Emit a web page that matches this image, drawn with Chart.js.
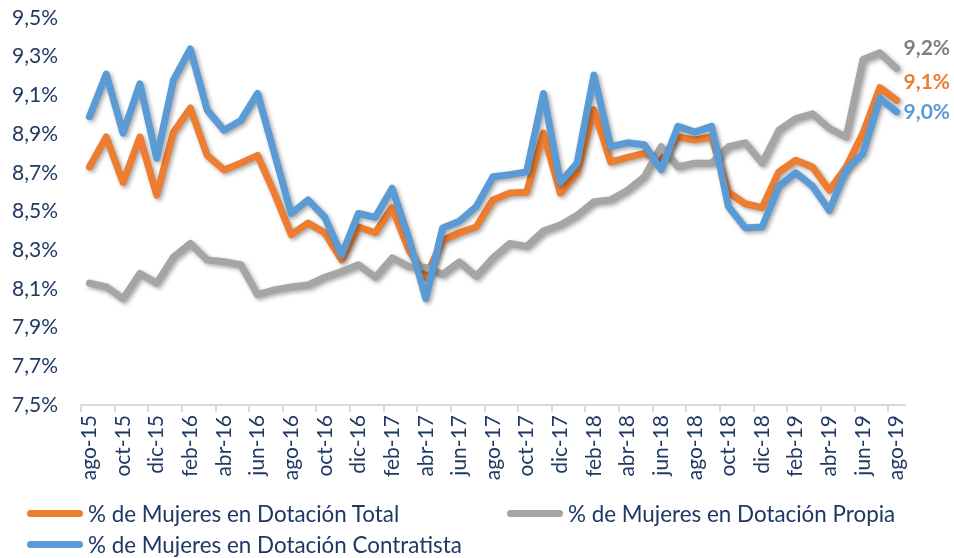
<!DOCTYPE html>
<html>
<head>
<meta charset="utf-8">
<script src="https://cdn.jsdelivr.net/npm/chart.js@4"></script>
<style>
  body { margin: 0; background: #fff; }
  #wrap { position: relative; width: 954px; height: 558px; font-family: Lato, sans-serif; }
  #legend { position: absolute; left: 0; top: 0; width: 954px; height: 558px; pointer-events: none; }
  .item { position: absolute; display: flex; align-items: center; height: 30px; color: #1F3864; font-size: 22.4px; white-space: nowrap; }
  .item span.line { display: inline-block; width: 56px; height: 7px; border-radius: 4px; margin-right: 5px; }
</style>
</head>
<body>
<div id="wrap">
  <canvas id="lineChart" width="954" height="558"></canvas>
  <div id="legend"></div>
</div>
<script>
const meses = [
    'ago-15', 'sep-15', 'oct-15', 'nov-15', 'dic-15',
    'ene-16', 'feb-16', 'mar-16', 'abr-16', 'may-16', 'jun-16', 'jul-16',
    'ago-16', 'sep-16', 'oct-16', 'nov-16', 'dic-16',
    'ene-17', 'feb-17', 'mar-17', 'abr-17', 'may-17', 'jun-17', 'jul-17',
    'ago-17', 'sep-17', 'oct-17', 'nov-17', 'dic-17',
    'ene-18', 'feb-18', 'mar-18', 'abr-18', 'may-18', 'jun-18', 'jul-18',
    'ago-18', 'sep-18', 'oct-18', 'nov-18', 'dic-18',
    'ene-19', 'feb-19', 'mar-19', 'abr-19', 'may-19', 'jun-19', 'jul-19',
    'ago-19'
];

// % de Mujeres en Dotación Total
const dotacionTotal = [
    8.73, 8.885, 8.65, 8.885, 8.585, 8.91, 9.035, 8.79, 8.715, 8.75, 8.79, 8.595,
    8.38, 8.44, 8.39, 8.25, 8.42, 8.39, 8.52, 8.30, 8.16, 8.35, 8.39, 8.42,
    8.56, 8.595, 8.60, 8.905, 8.595, 8.70, 9.025, 8.755, 8.78, 8.80, 8.765, 8.885,
    8.87, 8.885, 8.60, 8.54, 8.52, 8.705, 8.765, 8.73, 8.61, 8.73, 8.905, 9.14,
    9.075
];

// % de Mujeres en Dotación Propia
const dotacionPropia = [
    8.13, 8.11, 8.05, 8.18, 8.13, 8.265, 8.335, 8.25, 8.24, 8.225, 8.07, 8.095,
    8.11, 8.12, 8.16, 8.19, 8.225, 8.16, 8.26, 8.215, 8.21, 8.175, 8.24, 8.165,
    8.26, 8.335, 8.32, 8.40, 8.43, 8.48, 8.55, 8.56, 8.61, 8.68, 8.835, 8.73,
    8.75, 8.75, 8.835, 8.855, 8.75, 8.92, 8.98, 9.005, 8.93, 8.885, 9.285, 9.32,
    9.24
];

// % de Mujeres en Dotación Contratista
const dotacionContratista = [
    8.99, 9.21, 8.905, 9.16, 8.775, 9.18, 9.34, 9.025, 8.92, 8.97, 9.11, 8.80,
    8.49, 8.56, 8.47, 8.275, 8.49, 8.47, 8.62, 8.36, 8.05, 8.415, 8.45, 8.525,
    8.68, 8.69, 8.705, 9.11, 8.65, 8.75, 9.205, 8.835, 8.855, 8.845, 8.715, 8.94,
    8.91, 8.94, 8.525, 8.415, 8.42, 8.63, 8.70, 8.63, 8.505, 8.715, 8.80, 9.085,
    9.015
];

const ejeMin = 7.5;
const ejeMax = 9.5;
const ejePaso = 0.2;

const navy = '#1F3864';
const fmt = (v) => v.toFixed(1).replace('.', ',') + '%';

// sombra tipo Excel debajo de cada serie
const sombra = {
    id: 'sombra',
    beforeDatasetDraw(chart) {
        const ctx = chart.ctx;
        ctx.save();
        ctx.shadowColor = 'rgba(0,0,0,0.35)';
        ctx.shadowBlur = 4;
        ctx.shadowOffsetX = 2;
        ctx.shadowOffsetY = 2;
    },
    afterDatasetDraw(chart) {
        chart.ctx.restore();
    }
};

// etiqueta del último valor de cada serie
const etiquetaFinal = {
    id: 'etiquetaFinal',
    afterDatasetsDraw(chart) {
        const ctx = chart.ctx;
        const ajusteY = [-18, -20, 0];
        ctx.save();
        ctx.font = 'bold 21px Lato';
        ctx.textAlign = 'left';
        ctx.textBaseline = 'middle';
        chart.data.datasets.forEach((ds, i) => {
            const meta = chart.getDatasetMeta(i);
            const pt = meta.data[meta.data.length - 1];
            ctx.fillStyle = ds.labelColor;
            ctx.fillText(fmt(ds.data[ds.data.length - 1]), pt.x + 7, pt.y + ajusteY[i]);
        });
        ctx.restore();
    }
};

const ctx = document.getElementById('lineChart').getContext('2d');

const chart = new Chart(ctx, {
    type: 'line',
    data: {
        labels: meses,
        datasets: [{
            label: '% de Mujeres en Dotación Total',
            data: dotacionTotal,
            borderColor: '#ED7D31',
            labelColor: '#ED7D31',
            order: 3
        }, {
            label: '% de Mujeres en Dotación Propia',
            data: dotacionPropia,
            borderColor: '#A5A5A5',
            labelColor: '#7F7F7F',
            order: 2
        }, {
            label: '% de Mujeres en Dotación Contratista',
            data: dotacionContratista,
            borderColor: '#5B9BD5',
            labelColor: '#5B9BD5',
            order: 1
        }]
    },
    options: {
        responsive: false,
        animation: false,
        layout: { padding: { top: 18, right: 49, left: 0, bottom: 0 } },
        elements: {
            line: { borderWidth: 7, tension: 0, borderJoinStyle: 'round', borderCapStyle: 'round' },
            point: { radius: 0, hoverRadius: 0 }
        },
        plugins: {
            legend: { display: false },
            tooltip: { enabled: false }
        },
        scales: {
            x: {
                offset: true,
                grid: {
                    offset: true,
                    drawOnChartArea: false,
                    tickLength: 7,
                    lineWidth: 2,
                    color: (c) => (c.index % 2 === 0 ? '#D9D9D9' : 'rgba(0,0,0,0)')
                },
                border: { color: '#D9D9D9', width: 2 },
                ticks: {
                    autoSkip: false,
                    maxRotation: 90,
                    minRotation: 90,
                    padding: 3,
                    color: navy,
                    font: { family: 'Lato', size: 21 },
                    callback: function (val, idx) {
                        return idx % 2 === 0 ? this.getLabelForValue(val) : '';
                    }
                },
                afterFit: (s) => { s.height = 153; }
            },
            y: {
                min: ejeMin,
                max: ejeMax,
                // marcas invisibles, solo para separar las etiquetas del área
                grid: { drawOnChartArea: false, drawTicks: true, tickLength: 20, color: 'rgba(0,0,0,0)' },
                border: { display: false },
                ticks: {
                    stepSize: ejePaso,
                    padding: 3,
                    color: navy,
                    font: { family: 'Lato', size: 21 },
                    callback: (v) => fmt(v)
                },
                afterFit: (s) => { s.width = 81; }
            }
        }
    },
    plugins: [sombra, etiquetaFinal]
});

// leyenda en dos columnas como en el original
const legend = document.getElementById('legend');
const posiciones = [[27, 498], [507, 498], [27, 529]];
chart.data.datasets.forEach((ds, i) => {
    const el = document.createElement('div');
    el.className = 'item';
    el.style.left = posiciones[i][0] + 'px';
    el.style.top = posiciones[i][1] + 'px';
    el.innerHTML = '<span class="line" style="background:' + ds.borderColor + '"></span>' + ds.label;
    legend.appendChild(el);
});
</script>
</body>
</html>
